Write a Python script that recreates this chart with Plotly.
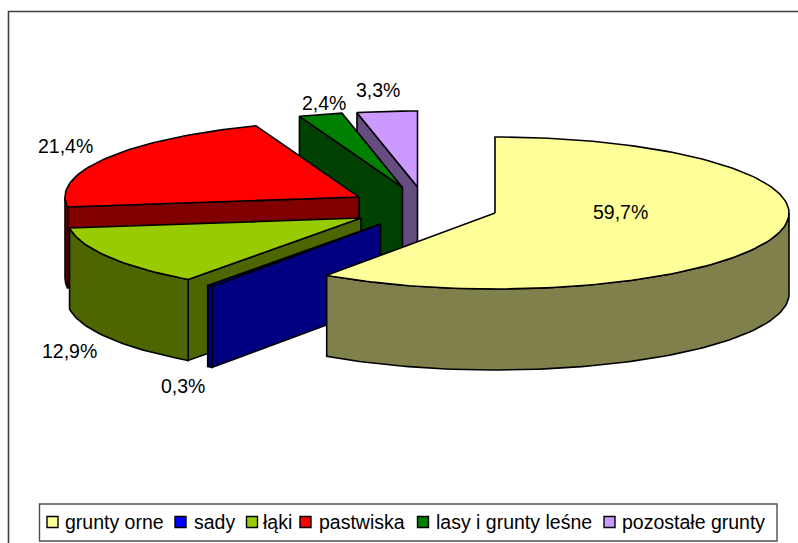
import math
import plotly.graph_objects as go

# ---- data ----
categories = ["grunty orne", "sady", "łąki", "pastwiska", "lasy i grunty leśne", "pozostałe grunty"]
values = [59.7, 0.3, 12.9, 21.4, 2.4, 3.3]
top_colors = ["#FFFF99", "#0000FF", "#99CC00", "#FF0000", "#008000", "#CC99FF"]
side_colors = ["#80804D", "#000080", "#4D6600", "#800000", "#004000", "#664D80"]

# ---- layout of the exploded 3D pie (pixels) ----
W, H = 798, 543
RX, RY, DEPTH = 294, 76, 81
apex_x = [495, 380.5, 361, 359, 402.5, 417.5]
apex_y = [213, 224, 218, 197, 187.5, 187]
label_x = [620, 183, 69, 65, 324, 378]
label_y = [212, 386, 351, 146, 103, 90]
draw_order = [5, 4, 3, 2, 1, 0]
legend_swatch_x = [47, 175, 246.5, 300, 417.5, 604]
legend_text_x = [65, 193.5, 263, 318.5, 435.5, 622]
FONT = "Liberation Sans, Arial, sans-serif"
FONT_SIZE = 19.5


def pt(cx, cy, deg, dy=0):
    a = math.radians(deg)
    return cx + RX * math.sin(a), cy - RY * math.cos(a) + dy


def arc(cx, cy, a0, a1, dy=0):
    n = max(2, int(abs(a1 - a0) / 1.5) + 2)
    return [pt(cx, cy, a0 + (a1 - a0) * i / (n - 1), dy) for i in range(n)]


def poly(points, fill, name, legend=False):
    xs = [p[0] for p in points] + [points[0][0]]
    ys = [p[1] for p in points] + [points[0][1]]
    return go.Scatter(x=xs, y=ys, mode="lines", fill="toself", fillcolor=fill,
                      line=dict(color="#000000", width=1.6), name=name,
                      showlegend=legend, hoverinfo="name")


total = sum(values)
starts, acc = [], 0.0
for v in values:
    starts.append(acc)
    acc += v * 360 / total

fig = go.Figure()
for i in draw_order:
    s, e = starts[i], starts[i] + values[i] * 360 / total
    cx, cy = apex_x[i], apex_y[i]
    # visible cut face at the slice's starting radius
    if 180 < s < 360:
        p = pt(cx, cy, s)
        q = pt(cx, cy, s, DEPTH)
        fig.add_trace(poly([(cx, cy), p, q, (cx, cy + DEPTH)], side_colors[i], categories[i]))
    # visible outer rim (front half of the ellipse only)
    a0, a1 = max(s, 90), min(e, 270)
    if a0 < a1:
        fig.add_trace(poly(arc(cx, cy, a0, a1) + arc(cx, cy, a1, a0, DEPTH),
                           side_colors[i], categories[i]))
    # top face
    fig.add_trace(poly([(cx, cy)] + arc(cx, cy, s, e), top_colors[i], categories[i]))

shapes = [
    # chart frame, running off the page on the right and at the bottom
    dict(type="path", path=f"M 8.5 {H+5} L 8.5 11.5 L {W+5} 11.5",
         line=dict(color="#404040", width=1.6)),
    # legend box
    dict(type="rect", x0=39.5, x1=777, y0=504, y1=541, fillcolor="#FFFFFF",
         line=dict(color="#505050", width=1.4)),
]
annotations = []
for i, c in enumerate(categories):
    shapes.append(dict(type="rect", x0=legend_swatch_x[i], x1=legend_swatch_x[i] + 11,
                       y0=516.5, y1=527.5, fillcolor=top_colors[i],
                       line=dict(color="#000000", width=1.4)))
    annotations.append(dict(x=legend_text_x[i], y=522, text=c, showarrow=False,
                            xanchor="left", yanchor="middle", xshift=-2,
                            font=dict(family=FONT, size=FONT_SIZE, color="#000000")))
    annotations.append(dict(x=label_x[i], y=label_y[i],
                            text=f"{values[i]:.1f}%".replace(".", ","), showarrow=False,
                            font=dict(family=FONT, size=FONT_SIZE, color="#000000")))

axis = dict(visible=False, fixedrange=True)
fig.update_layout(
    width=W, height=H, margin=dict(l=0, r=0, t=0, b=0),
    paper_bgcolor="#FFFFFF", plot_bgcolor="#FFFFFF", showlegend=False,
    xaxis=dict(range=[0, W], **axis), yaxis=dict(range=[H, 0], **axis),
    shapes=shapes, annotations=annotations,
)
fig.write_html("out.html", config=dict(displayModeBar=False),
               post_script="document.body.style.margin='0';document.documentElement.style.overflow='hidden';")
